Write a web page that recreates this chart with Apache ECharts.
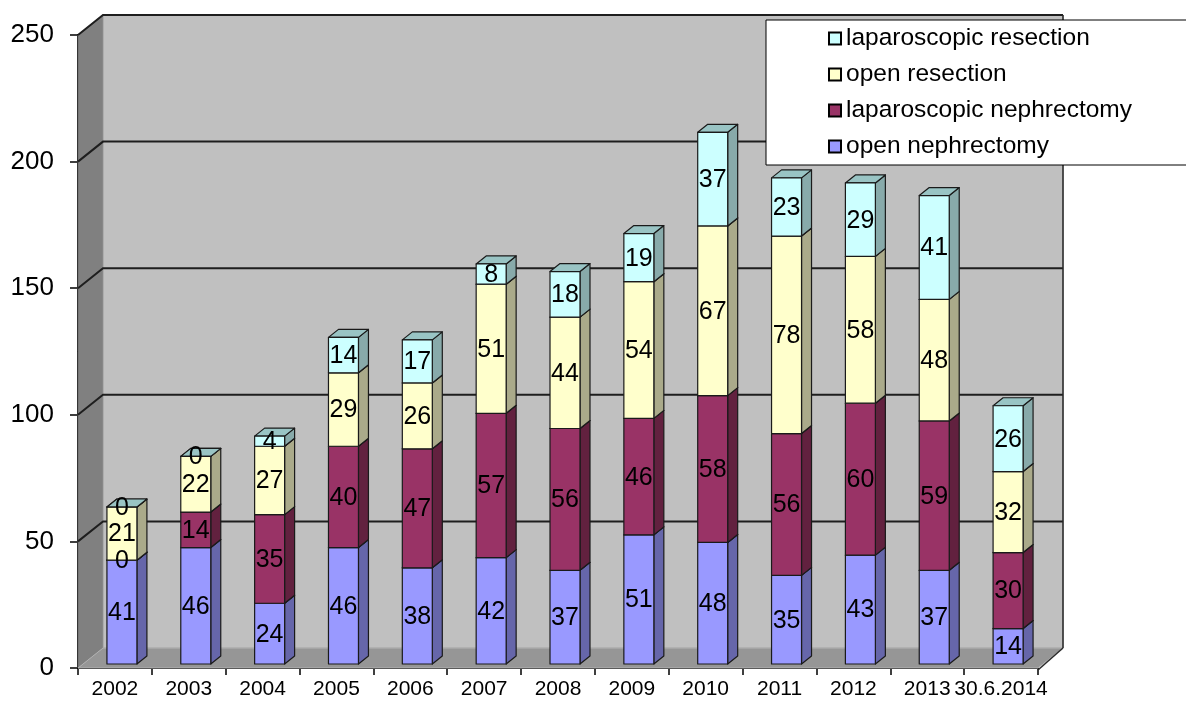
<!DOCTYPE html>
<html>
<head>
<meta charset="utf-8">
<title>Kidney surgery by year</title>
<script src="https://cdn.jsdelivr.net/npm/echarts@6/dist/echarts.min.js"></script>
<style>
  html, body { margin: 0; padding: 0; background: #fff; }
  #chart { width: 1186px; height: 702px; }
</style>
</head>
<body>
<div id="chart"></div>
<script>
// Operations per year, stacked bottom to top
const categories = ['2002', '2003', '2004', '2005', '2006', '2007', '2008', '2009', '2010', '2011', '2012', '2013', '30.6.2014'];
const openNephrectomy = [41, 46, 24, 46, 38, 42, 37, 51, 48, 35, 43, 37, 14];
const lapNephrectomy  = [0, 14, 35, 40, 47, 57, 56, 46, 58, 56, 60, 59, 30];
const openResection   = [21, 22, 27, 29, 26, 51, 44, 54, 67, 78, 58, 48, 32];
const lapResection    = [0, 0, 4, 14, 17, 8, 18, 19, 37, 23, 29, 41, 26];
const yTicks = [0, 50, 100, 150, 200, 250];

const FONT = '"Liberation Sans", Arial, Helvetica, sans-serif';

// pseudo-3D geometry (pixels)
const WALL_DX = 25, WALL_DY = -20;   // depth of the chart box
const BAR_DX = 10, BAR_DY = -8;      // depth of each column
const BAR_SHIFT_X = 7, BAR_SHIFT_Y = -4; // columns sit a little inside the box
const BAR_RATIO = 0.406;

const layers = [
  { name: 'open nephrectomy', values: openNephrectomy, front: '#9999ff', side: '#6666aa', top: '#7b7bcc' },
  { name: 'laparoscopic nephrectomy', values: lapNephrectomy, front: '#993366', side: '#62213f', top: '#7a2952' },
  { name: 'open resection', values: openResection, front: '#ffffcc', side: '#aaaa8a', top: '#cccca3' },
  { name: 'laparoscopic resection', values: lapResection, front: '#ccffff', side: '#88aaaa', top: '#99c4c4' }
];

// cumulative bases for the stack
const bases = layers.map(() => categories.map(() => 0));
for (let k = 1; k < layers.length; k++) {
  for (let i = 0; i < categories.length; i++) {
    bases[k][i] = bases[k - 1][i] + layers[k - 1].values[i];
  }
}

function renderWalls(params, api) {
  const cs = params.coordSys;
  const x = cs.x, y = cs.y, w = cs.width, h = cs.height;
  const children = [];
  // left wall
  children.push({ type: 'polygon', shape: { points: [[x, y], [x + WALL_DX, y + WALL_DY], [x + WALL_DX, y + h + WALL_DY], [x, y + h]] },
    style: { fill: '#808080', stroke: '#6a6a6a', lineWidth: 1 } });
  // back wall
  children.push({ type: 'rect', shape: { x: x + WALL_DX, y: y + WALL_DY, width: w, height: h },
    style: { fill: '#c0c0c0', stroke: '#9a9a9a', lineWidth: 1 } });
  // floor
  children.push({ type: 'polygon', shape: { points: [[x, y + h], [x + w, y + h], [x + w + WALL_DX, y + h + WALL_DY], [x + WALL_DX, y + h + WALL_DY]] },
    style: { fill: '#969696', stroke: '#b4b4b4', lineWidth: 1 } });
  // grid lines wrapping the left and back walls
  yTicks.forEach(function (v) {
    if (v === 0) return;
    const yy = api.coord([0, v])[1];
    children.push({ type: 'polyline', shape: { points: [[x, yy], [x + WALL_DX, yy + WALL_DY], [x + w + WALL_DX, yy + WALL_DY]] },
      style: { stroke: '#1e1e1e', lineWidth: 2, fill: null } });
  });
  // right edges of the box
  children.push({ type: 'line', shape: { x1: x + w + WALL_DX, y1: y + WALL_DY, x2: x + w + WALL_DX, y2: y + h + WALL_DY },
    style: { stroke: '#2a2a2a', lineWidth: 1.5 } });
  children.push({ type: 'line', shape: { x1: x + w, y1: y + h + 2, x2: x + w + WALL_DX, y2: y + h + WALL_DY },
    style: { stroke: '#2a2a2a', lineWidth: 1.5 } });
  return { type: 'group', children: children };
}

function makeBarRenderer(layer) {
  return function (params, api) {
    const i = api.value(0), base = api.value(1), val = api.value(2);
    const pb = api.coord([i, base]);
    const pt = api.coord([i, base + val]);
    const bw = api.size([1, 0])[0] * BAR_RATIO;
    const x0 = pb[0] - bw / 2 + BAR_SHIFT_X, x1 = x0 + bw;
    const yb = pb[1] + BAR_SHIFT_Y, yt = pt[1] + BAR_SHIFT_Y;
    const edge = { stroke: '#1a1a1a', lineWidth: 1.2, lineJoin: 'round' };
    return {
      type: 'group',
      children: [
        { type: 'polygon', shape: { points: [[x1, yb], [x1, yt], [x1 + BAR_DX, yt + BAR_DY], [x1 + BAR_DX, yb + BAR_DY]] },
          style: Object.assign({ fill: layer.side }, edge) },
        { type: 'polygon', shape: { points: [[x0, yt], [x1, yt], [x1 + BAR_DX, yt + BAR_DY], [x0 + BAR_DX, yt + BAR_DY]] },
          style: Object.assign({ fill: layer.top }, edge) },
        { type: 'rect', shape: { x: x0, y: yt, width: bw, height: yb - yt },
          style: Object.assign({ fill: layer.front }, edge) },
        { type: 'text', z2: 100, x: (x0 + x1) / 2, y: (yt + yb) / 2 + 1,
          style: { text: String(val), fill: '#000', fontSize: 25, fontFamily: FONT, align: 'center', verticalAlign: 'middle' } }
      ]
    };
  };
}

const series = [{
  type: 'custom',
  name: 'walls',
  silent: true,
  z: 1,
  renderItem: renderWalls,
  data: [[0, 0]]
}];

layers.forEach(function (layer, k) {
  series.push({
    type: 'custom',
    name: layer.name,
    z: 2,
    itemStyle: { color: layer.front },
    renderItem: makeBarRenderer(layer),
    encode: { x: 0, y: [1, 2] },
    data: categories.map((c, i) => [i, bases[k][i], layer.values[i]])
  });
});

const chart = echarts.init(document.getElementById('chart'), null, { renderer: 'canvas' });
chart.setOption({
  animation: false,
  backgroundColor: '#ffffff',
  textStyle: { fontFamily: FONT },
  grid: { left: 78, right: 148, top: 35, bottom: 34, containLabel: false },
  legend: {
    orient: 'vertical',
    left: 766,
    top: 20,
    padding: [6, 400, 6, 62],
    itemGap: 11,
    itemWidth: 12,
    itemHeight: 12,
    icon: 'rect',
    backgroundColor: '#ffffff',
    borderColor: '#000000',
    borderWidth: 1,
    borderRadius: 0,
    itemStyle: { borderColor: '#000', borderWidth: 2 },
    textStyle: { fontSize: 24.5, lineHeight: 24, color: '#000', fontFamily: FONT },
    data: ['laparoscopic resection', 'open resection', 'laparoscopic nephrectomy', 'open nephrectomy']
  },
  xAxis: {
    type: 'category',
    data: categories,
    offset: 2,
    axisLine: { show: true, lineStyle: { color: '#000', width: 2 } },
    axisTick: { show: true, length: 7, lineStyle: { color: '#000', width: 1.5 } },
    axisLabel: { interval: 0, fontSize: 21, color: '#000', margin: 9, fontFamily: FONT },
    splitLine: { show: false }
  },
  yAxis: {
    type: 'value',
    min: 0,
    max: 250,
    interval: 50,
    axisLine: { show: true, lineStyle: { color: '#000', width: 2 } },
    axisTick: { show: true, length: 8, lineStyle: { color: '#000', width: 1.5 } },
    axisLabel: { fontSize: 26, color: '#000', margin: 24, fontFamily: FONT },
    splitLine: { show: false }
  },
  series: series
});
</script>
</body>
</html>
